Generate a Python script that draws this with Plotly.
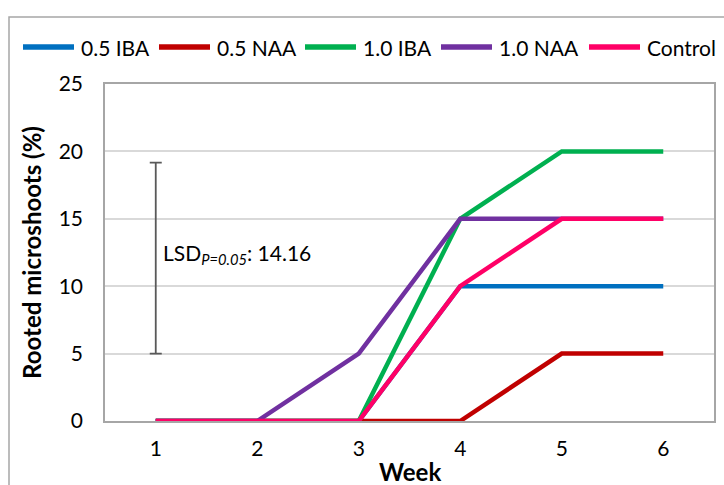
import plotly.graph_objects as go

weeks = [1, 2, 3, 4, 5, 6]
series_names = ["0.5 IBA", "0.5 NAA", "1.0 IBA", "1.0 NAA", "Control"]
iba_05 = [0, 0, 0, 10, 10, 10]
naa_05 = [0, 0, 0, 0, 5, 5]
iba_10 = [0, 0, 0, 15, 20, 20]
naa_10 = [0, 0, 5, 15, 15, 15]
control = [0, 0, 0, 10, 15, 15]
colors = ["#0070C0", "#C00000", "#00B050", "#7030A0", "#FF0066"]

lsd_value = 14.16
lsd_low = 5.0
lsd_week = 1

FONT = "Lato"
W, H = 724, 485
L, R, T, B = 105, 10, 84, 64
pw, ph = W - L - R, H - T - B


def px(x):
    """pixel column -> paper x"""
    return (x - L) / pw


def py(y):
    """pixel row (from top) -> paper y"""
    return (H - B - y) / ph


fig = go.Figure()
for name, vals, col in zip(series_names, [iba_05, naa_05, iba_10, naa_10, control], colors):
    fig.add_trace(go.Scatter(
        x=weeks, y=vals, name=name, mode="lines",
        line=dict(color=col, width=4.5),
    ))

# LSD bar drawn as an error bar around its midpoint
fig.add_trace(go.Scatter(
    x=[lsd_week], y=[lsd_low + lsd_value / 2], mode="markers",
    marker=dict(size=1, color="rgba(0,0,0,0)"),
    error_y=dict(type="data", array=[lsd_value / 2], color="#595959",
                 thickness=1.8, width=6),
    showlegend=False, hoverinfo="skip",
))
fig.add_annotation(
    x=lsd_week + 0.05, y=lsd_low + lsd_value / 2 + 0.3, xref="x", yref="y",
    text="LSD<sub><i>P=0.05</i></sub>: %.2f" % lsd_value,
    showarrow=False, xanchor="left", yanchor="middle",
    font=dict(family=FONT, size=21, color="#000000"),
)

# outer chart frame
fig.add_shape(type="rect", xref="paper", yref="paper",
              x0=px(9), x1=px(W + 5), y0=py(H + 5), y1=py(17),
              line=dict(color="#A6A6A6", width=1.5), fillcolor="rgba(0,0,0,0)",
              layer="below")

# legend row: swatch line + label for each series
legend_starts = [21, 157, 303, 439, 587]
swatch_len = 55
legend_row = 47
for name, col, x0 in zip(series_names, colors, legend_starts):
    fig.add_shape(type="line", xref="paper", yref="paper",
                  x0=px(x0 + 2), x1=px(x0 + swatch_len - 2),
                  y0=py(legend_row), y1=py(legend_row),
                  line=dict(color=col, width=5.5))
    fig.add_annotation(x=px(x0 + swatch_len + 3), y=py(legend_row),
                       xref="paper", yref="paper", text=name, showarrow=False,
                       xanchor="left", yanchor="middle",
                       font=dict(family=FONT, size=21, color="#000000"))

# x-axis title, set just under the tick labels
fig.add_annotation(x=0.5, y=py(471), xref="paper", yref="paper",
                   text="<b>Week</b>", showarrow=False,
                   xanchor="center", yanchor="middle",
                   font=dict(family=FONT, size=24, color="#000000"))

fig.update_layout(
    width=W, height=H,
    margin=dict(l=L, r=R, t=T, b=B, autoexpand=False),
    paper_bgcolor="white", plot_bgcolor="white",
    font=dict(family=FONT, size=21, color="#000000"),
    showlegend=False,
)
fig.update_xaxes(
    range=[0.5, 6.5], tickvals=weeks, ticks="", showgrid=False,
    showline=True, linecolor="#A6A6A6", linewidth=1.5, mirror=True,
    zeroline=False, tickfont=dict(family=FONT, size=21),
    ticklabelstandoff=8, automargin=False,
)
fig.update_yaxes(
    range=[0, 25], dtick=5, ticks="", showgrid=True, gridcolor="#D9D9D9",
    gridwidth=1.5, showline=True, linecolor="#A6A6A6", linewidth=1.5,
    mirror=True, zeroline=False, tickfont=dict(family=FONT, size=21),
    ticklabelstandoff=16, automargin=False,
    title=dict(text="<b>Rooted microshoots (%)</b>", font=dict(family=FONT, size=24),
               standoff=10),
)

fig.write_html("out.html")
